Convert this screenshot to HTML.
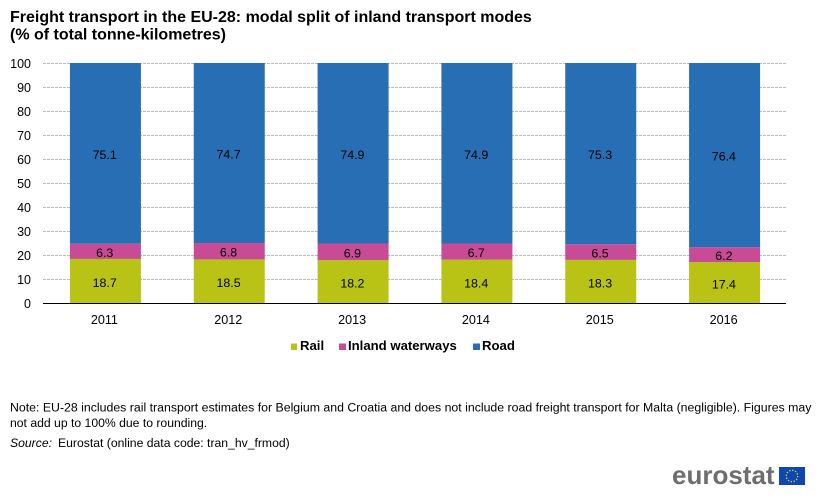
<!DOCTYPE html>
<html lang="en">
<head>
<meta charset="utf-8">
<title>Freight transport in the EU-28</title>
<style>
html,body{margin:0;padding:0;background:#fff;width:823px;height:503px;overflow:hidden}
svg{display:block;font-family:"Liberation Sans",Arial,sans-serif}
</style>
</head>
<body>
<svg id="chart" width="823" height="503" viewBox="0 0 823 503" xmlns="http://www.w3.org/2000/svg">
  <rect width="823" height="503" fill="#fff"/>
  <text x="10" y="22" font-size="16" font-weight="700" fill="#000">Freight transport in the EU-28: modal split of inland transport modes</text>
  <text x="10" y="39.5" font-size="16" font-weight="700" fill="#000">(% of total tonne-kilometres)</text>
  <g id="grid"></g>
  <g id="ylabels"></g>
  <g id="bars"></g>
  <g id="xlabels"></g>
  <line x1="43" x2="786" y1="303.5" y2="303.5" stroke="#000" stroke-width="1"/>

  <g>
    <rect x="291" y="343.5" width="6" height="6.5" fill="#b9c315"/>
    <text x="300" y="350" font-size="13.15" font-weight="700" fill="#000">Rail</text>
    <rect x="339" y="343.5" width="7" height="6.5" fill="#c84b96"/>
    <text x="348" y="350" font-size="13.15" font-weight="700" fill="#000">Inland waterways</text>
    <rect x="473" y="343.5" width="7" height="6.5" fill="#286eb4"/>
    <text x="482" y="350" font-size="13.15" font-weight="700" fill="#000">Road</text>
  </g>

  <text x="10" y="411.5" font-size="12.32" fill="#000">Note: EU-28 includes rail transport estimates for Belgium and Croatia and does not include road freight transport for Malta (negligible). Figures may</text>
  <text x="10" y="427" font-size="12.2" fill="#000">not add up to 100% due to rounding.</text>
  <text x="10" y="447" font-size="12.2" font-style="italic" fill="#000">Source:</text>
  <text x="58" y="447" font-size="12.2" fill="#000">Eurostat (online data code: tran_hv_frmod)</text>

  <text x="672" y="484" font-size="26" font-weight="700" fill="#6d6e70">eurostat</text>
  <g>
    <rect x="779" y="467" width="26" height="18" fill="#0f47af"/>
    <circle id="stars" cx="792" cy="476" r="5.7" fill="none" stroke="#e0d040" stroke-width="1.3" stroke-dasharray="1.3 1.68"/>
  </g>
</svg>
<script>
var categories = ['2011', '2012', '2013', '2014', '2015', '2016'];
var railValues = [18.7, 18.5, 18.2, 18.4, 18.3, 17.4];
var waterwayValues = [6.3, 6.8, 6.9, 6.7, 6.5, 6.2];
var roadValues = [75.1, 74.7, 74.9, 74.9, 75.3, 76.4];
var yTicks = [0, 10, 20, 30, 40, 50, 60, 70, 80, 90, 100];

var NS = 'http://www.w3.org/2000/svg';
var plotLeft = 43, plotRight = 786, plotTop = 63, plotBottom = 304, barWidth = 71, yMax = 100;

function yScale(v) {
  var c = Math.min(v, yMax);
  return plotBottom - (c / yMax) * (plotBottom - plotTop);
}
function tickScale(v) {
  return (plotBottom - 1) - (v / yMax) * (plotBottom - 1 - plotTop);
}
function xCenter(i) {
  return plotLeft + 0.5 + (plotRight - plotLeft) * (i + 0.5) / categories.length;
}
function mk(tag, attrs, parent, txt) {
  var el = document.createElementNS(NS, tag);
  for (var k in attrs) el.setAttribute(k, attrs[k]);
  if (txt !== undefined) el.textContent = txt;
  parent.appendChild(el);
  return el;
}

var grid = document.getElementById('grid');
var ylabels = document.getElementById('ylabels');
yTicks.forEach(function (t) {
  var y = tickScale(t);
  if (t > 0) {
    var ln = mk('line', {x1: plotLeft, x2: plotRight, y1: y + 0.5, y2: y + 0.5, stroke: '#bcbcbc', 'stroke-width': 1, 'stroke-dasharray': '3 1'}, grid);
    
    
  }
  var lb = mk('text', {x: 31, y: y + 5, 'text-anchor': 'end', 'font-size': 12.5, fill: '#000'}, ylabels, String(t));
  
  
});

var bars = document.getElementById('bars');
var xlabels = document.getElementById('xlabels');
var seriesNames = ['rail', 'inland-waterways', 'road'];
var seriesColors = ['#b9c315', '#c84b96', '#286eb4'];
var seriesData = [railValues, waterwayValues, roadValues];
categories.forEach(function (cat, i) {
  var cx = xCenter(i);
  var base = 0;
  seriesData.forEach(function (vals, s) {
    var v = vals[i];
    var y0 = yScale(base), y1 = yScale(base + v);
    var r = mk('rect', {x: cx - barWidth / 2, y: y1, width: barWidth, height: Math.max(0, y0 - y1), fill: seriesColors[s]}, bars);
    
    
    var lab = mk('text', {x: cx - 0.7, y: (y0 + y1) / 2 + 5.5, 'text-anchor': 'middle', 'font-size': 12.4, fill: '#000'}, bars, v.toFixed(1));
    
    
    base += v;
  });
  var xl = mk('text', {x: cx - 1, y: 324, 'text-anchor': 'middle', 'font-size': 12.6, fill: '#000'}, xlabels, cat);
  
  
});
</script>
</body>
</html>
